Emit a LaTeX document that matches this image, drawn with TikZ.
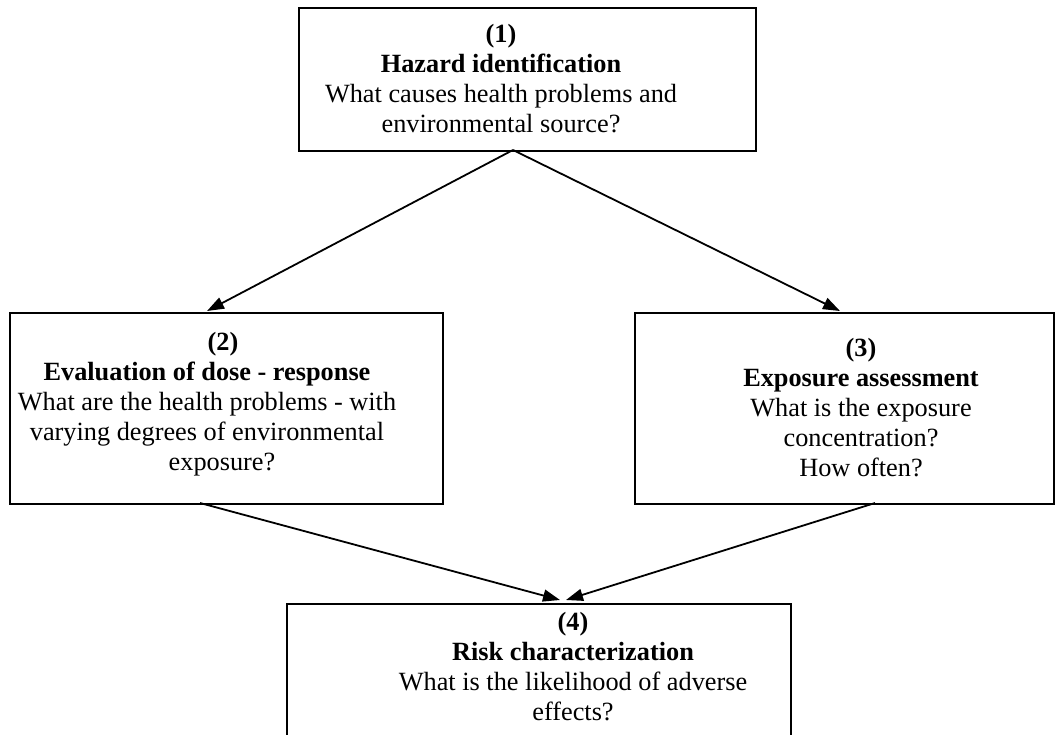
\documentclass[tikz,border=0pt]{standalone}
\usepackage{fontspec}
\setmainfont{Liberation Serif}
\usetikzlibrary{arrows.meta}
\tikzset{
  box/.style={draw, line width=1.8pt, rectangle, inner sep=0pt, anchor=north west},
  txt/.style={align=center, inner sep=0pt, anchor=north, font=\fontsize{26.3}{30}\selectfont},
  arr/.style={line width=1.8pt, -{Triangle[length=17pt,width=12pt]}},
}
\begin{document}
\begin{tikzpicture}[x=1pt,y=-1pt]
\useasboundingbox (0,0) rectangle (1056,735);
% boxes
\node[box, minimum width=457, minimum height=143] (b1) at (298,7) {};
\node[box, minimum width=433, minimum height=191] (b2) at (9,312) {};
\node[box, minimum width=419, minimum height=191] (b3) at (634,312) {};
\node[box, minimum width=504, minimum height=142] (b4) at (286,603) {};
% texts
\node[txt] (t1) at (501,21) {\strut\textbf{(1)}\\\strut\textbf{Hazard identification}\\\strut What causes health problems and\\\strut environmental source?};
\node[txt] (t2) at (207,329) {\strut\hspace*{32pt}\textbf{(2)}\\\strut\textbf{Evaluation of dose - response}\\\strut What are the health problems - with\\\strut varying degrees of environmental\\\strut\hspace*{30pt}exposure?};
\node[txt] (t3) at (861,335) {\strut\textbf{(3)}\\\strut\textbf{Exposure assessment}\\\strut What is the exposure\\\strut concentration?\\\strut How often?};
\node[txt] (t4) at (573,609) {\strut\textbf{(4)}\\\strut\textbf{Risk characterization}\\\strut What is the likelihood of adverse\\\strut effects?};
% connector end points on box borders
\coordinate (s1) at (513,150);
\coordinate (e2) at (207,311);
\coordinate (e3) at (840,311);
\coordinate (s2) at (200,503);
\coordinate (s3) at (875,503);
\coordinate (e4a) at (560,600);
\coordinate (e4b) at (566,600);
% connectors
\draw[arr] (s1) -- (e2);
\draw[arr] (s1) -- (e3);
\draw[arr] (s2) -- (e4a);
\draw[arr] (s3) -- (e4b);
\end{tikzpicture}
\end{document}
